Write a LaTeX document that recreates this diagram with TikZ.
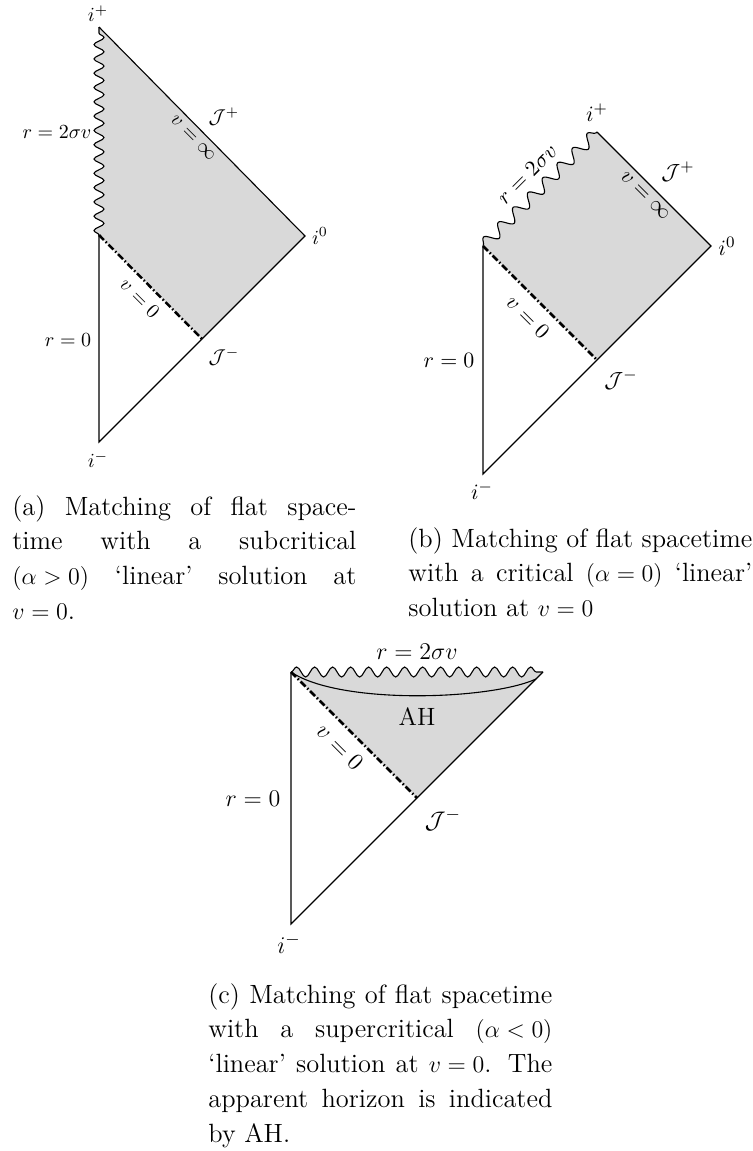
\documentclass[tikz,border=0pt]{standalone}
\usetikzlibrary{decorations.pathmorphing}
\newcommand{\capmath}{\thickmuskip=5mu\relax\medmuskip=4mu\relax}
\begin{document}
\begin{tikzpicture}[x=0.5pt,y=-0.5pt,
  edge/.style={line width=0.55pt},
  region/.style={fill=black!15},
  matchline/.style={line width=1.25pt, dash pattern=on 3.5pt off 1.25pt on 0.75pt off 1.25pt},
  snakea/.style={decoration={snake, amplitude=2.5pt, segment length=7.15pt}},
  snakeb/.style={decoration={snake, amplitude=3pt, segment length=10.5pt}},
  snakec/.style={decoration={snake, amplitude=2.5pt, segment length=9pt}},
  lbla/.style={inner sep=0pt, font=\fontsize{10.3}{12}\selectfont},
  lblb/.style={inner sep=0pt, font=\fontsize{11.4}{13}\selectfont},
  lblc/.style={inner sep=0pt, font=\fontsize{12.5}{14}\selectfont},
  capbox/.style={inner sep=0pt, anchor=north west, text width=172pt, align=justify,
                 font=\fontsize{13.2}{17.35}\selectfont},
]
\useasboundingbox (0,0) rectangle (753,1151);

% ---------------- (a) ----------------
\coordinate (aip) at (99,27);
\coordinate (ai0) at (305,236);
\coordinate (aim) at (99,442);
\coordinate (aj)  at (99,235);
\coordinate (ajm) at (202,339);
\fill[region, snakea] decorate {(aj) -- (aip)} -- (ai0) -- (ajm) -- cycle;
\draw[edge, snakea, decorate] (aj) -- (aip);
\draw[edge] (aip) -- (ai0) -- (aim) -- (aj);
\draw[matchline] (aj) -- (ajm);
\node[lbla] (aLip)  at (98,14)   {$i^+$};
\node[lbla] (aLJp)  at (224,117) {$\mathcal{J}^+$};
\node[lbla] (aLrs)  at (57,132)  {$r=2\sigma v$};
\node[lbla, rotate=-45] (aLvi) at (193,138) {$v=\infty$};
\node[lbla] (aLi0)  at (320,236) {$i^0$};
\node[lbla, rotate=-45] (aLv0) at (140,298) {$v=0$};
\node[lbla] (aLr0)  at (68,340)  {$r=0$};
\node[lbla] (aLJm)  at (224,357) {$\mathcal{J}^-$};
\node[lbla] (aLim)  at (98,460)  {$i^-$};

% ---------------- (b) ----------------
\coordinate (bip) at (597,132);
\coordinate (bi0) at (711,246);
\coordinate (bim) at (483,474);
\coordinate (bj)  at (483,246);
\coordinate (bjm) at (597,360);
\fill[region, snakeb] decorate {(bj) -- (bip)} -- (bi0) -- (bjm) -- cycle;
\draw[edge, snakeb, decorate] (bj) -- (bip);
\draw[edge] (bip) -- (bi0) -- (bim) -- (bj);
\draw[matchline] (bj) -- (bjm);
\node[lblb] (bLip)  at (597,113) {$i^+$};
\node[lblb] (bLJp)  at (678,172) {$\mathcal{J}^+$};
\node[lblb, rotate=45] (bLrs) at (527,174) {$r=2\sigma v$};
\node[lblb, rotate=-45] (bLvi) at (645,196) {$v=\infty$};
\node[lblb] (bLi0)  at (727,246) {$i^0$};
\node[lblb, rotate=-45] (bLv0) at (528,317) {$v=0$};
\node[lblb] (bLr0)  at (449,360) {$r=0$};
\node[lblb] (bLJm)  at (621,380) {$\mathcal{J}^-$};
\node[lblb] (bLim)  at (482,491) {$i^-$};

% ---------------- (c) ----------------
\coordinate (cj)  at (291,672);
\coordinate (ctr) at (543,672);
\coordinate (cjm) at (417,798);
\coordinate (cim) at (291,924);
\coordinate (cah) at (536,679);
\fill[region, snakec] decorate {(cj) -- (ctr)} -- (cjm) -- cycle;
\draw[edge, snakec, decorate] (cj) -- (ctr);
\draw[edge] (ctr) -- (cim) -- (cj);
\draw[edge] (cj) .. controls (340,705) and (490,700) .. (cah);
\draw[matchline] (cj) -- (cjm);
\node[lblc] (cLrs)  at (417,652) {$r=2\sigma v$};
\node[lblc] (cLah)  at (417,717) {AH};
\node[lblc, rotate=-45] (cLv0) at (340,747) {$v=0$};
\node[lblc] (cLr0)  at (253,799) {$r=0$};
\node[lblc] (cLJm)  at (443,820) {$\mathcal{J}^-$};
\node[lblc] (cLim)  at (289,944) {$i^-$};

% ---------------- captions ----------------
\node[capbox] (capa) at (12,495) {\capmath (a) Matching of flat space-\linebreak time with a subcritical\linebreak $(\alpha>0)$ `linear' solution at\linebreak $v=0$.};
\node[capbox] (capb) at (408,527) {\capmath (b) Matching of flat spacetime\linebreak with a critical $(\alpha=0)$ `linear'\linebreak solution at $v=0$};
\node[capbox] (capc) at (208,983) {\capmath (c) Matching of flat spacetime\linebreak with a supercritical $(\alpha<0)$\linebreak `linear' solution at $v=0$. The\linebreak apparent horizon is indicated\linebreak by AH.};
\end{tikzpicture}
\end{document}
